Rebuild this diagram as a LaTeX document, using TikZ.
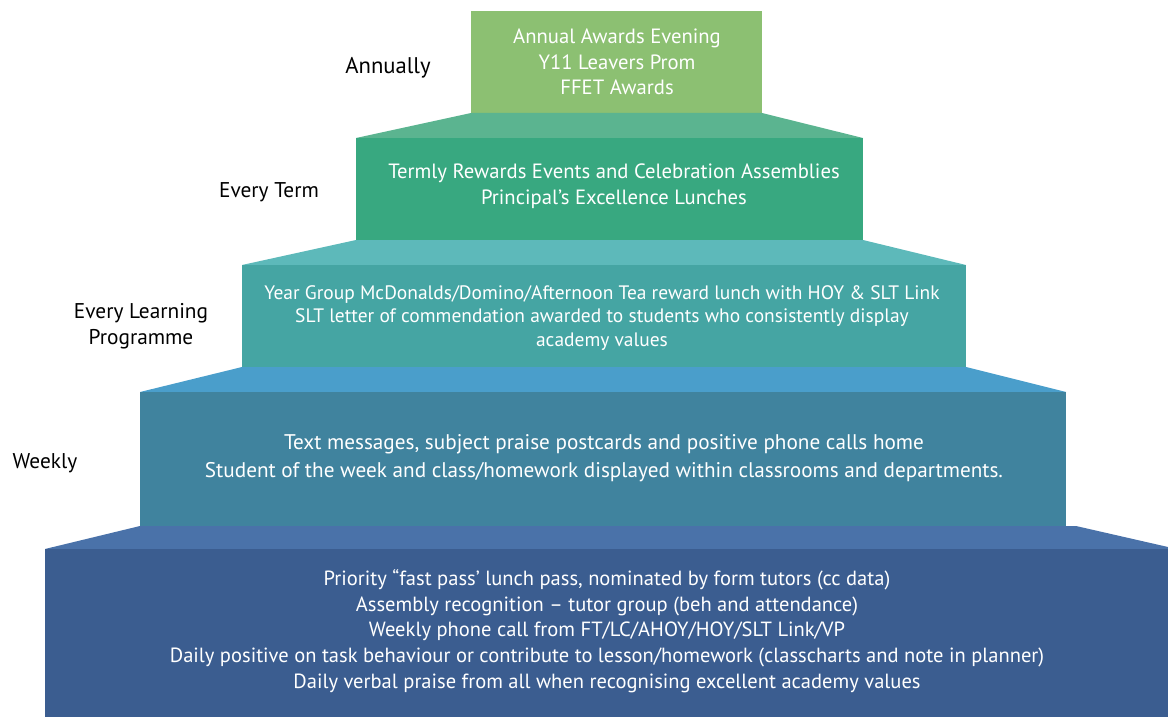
\documentclass[tikz,border=0pt]{standalone}
\usepackage{fontspec}
\setmainfont{PT Sans}
\definecolor{tierA}{HTML}{8CC072}
\definecolor{bevelA}{HTML}{5BB490}
\definecolor{tierB}{HTML}{38A880}
\definecolor{bevelB}{HTML}{5DB9BA}
\definecolor{tierC}{HTML}{45A5A3}
\definecolor{bevelC}{HTML}{4A9ECB}
\definecolor{tierD}{HTML}{40839E}
\definecolor{bevelD}{HTML}{4A72A9}
\definecolor{tierE}{HTML}{3B5D90}
\begin{document}
\begin{tikzpicture}[x=0.75pt,y=-0.75pt,
  tiertext/.style={anchor=center,inner sep=0pt,align=center,text=white},
  freqlabel/.style={anchor=center,inner sep=0pt,align=center,text=black,font=\fontsize{16}{19.5}\selectfont}]
\path[use as bounding box] (0,0) rectangle (1168,717);
\fill[tierA] (471,11) rectangle (762,113);
\fill[bevelA] (471,113)--(762,113)--(863,138)--(356,138)--cycle;
\fill[tierB] (356,138) rectangle (863,240);
\fill[bevelB] (356,240)--(863,240)--(966,265)--(242,265)--cycle;
\fill[tierC] (242,265) rectangle (966,367);
\fill[bevelC] (242,367)--(966,367)--(1066,392)--(140,392)--cycle;
\fill[tierD] (140,392) rectangle (1066,526);
\fill[bevelD] (140,526)--(1076,526)--(1168,547)--(1168,549)--(45,549)--cycle;
\fill[tierE] (45,549) rectangle (1168,717);
\node[tiertext,font=\fontsize{15.5}{19.1}\selectfont] (annualtxt) at (617,62) {Annual Awards Evening\\Y11 Leavers Prom\\FFET Awards};
\node[tiertext,font=\fontsize{15.5}{19.5}\selectfont] (termtxt) at (614,186) {Termly Rewards Events and Celebration Assemblies\\Principal’s Excellence Lunches};
\node[tiertext,font=\fontsize{14.6}{17.6}\selectfont] (progtxt) at (602,318) {Year Group McDonalds/Domino/Afternoon Tea reward lunch with HOY \& SLT Link\\SLT letter of commendation awarded to students who consistently display\\academy values};
\node[tiertext,font=\fontsize{15.9}{21}\selectfont] (weektxt) at (604,458) {Text messages, subject praise postcards and positive phone calls home\\Student of the week and class/homework displayed within classrooms and departments.};
\node[tiertext,font=\fontsize{15.4}{19.3}\selectfont] (daytxt) at (607,631) {Priority “fast pass’ lunch pass, nominated by form tutors (cc data)\\Assembly recognition – tutor group (beh and attendance)\\Weekly phone call from FT/LC/AHOY/HOY/SLT Link/VP\\Daily positive on task behaviour or contribute to lesson/homework (classcharts and note in planner)\\Daily verbal praise from all when recognising excellent academy values};
\node[freqlabel,font=\fontsize{17}{20}\selectfont] (annually) at (388,68) {Annually};
\node[freqlabel] (everyterm) at (269,192) {Every Term};
\node[freqlabel] (everyprog) at (141,326) {Every Learning\\Programme};
\node[freqlabel] (weekly) at (45,463) {Weekly};
\end{tikzpicture}
\end{document}
